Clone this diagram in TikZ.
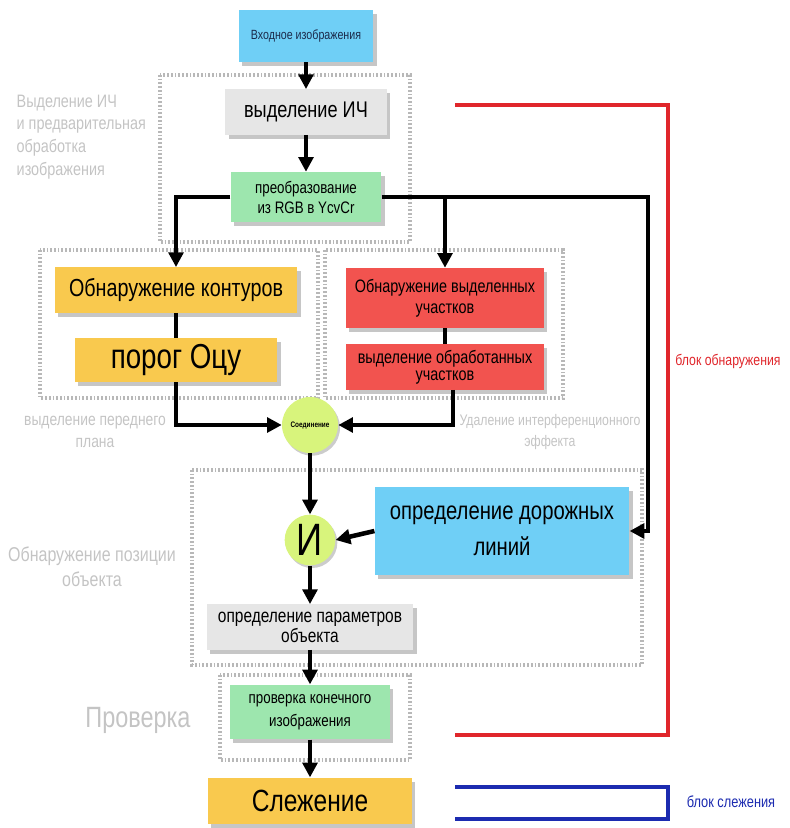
\documentclass[tikz,border=0pt]{standalone}
\usepackage{fontspec}
\setmainfont{Liberation Sans}[FakeStretch=0.8]
\usetikzlibrary{arrows.meta,shadows}
\definecolor{inblue}{HTML}{6FCFF6}
\definecolor{navy}{HTML}{1B2A4A}
\definecolor{pale}{HTML}{E6E6E6}
\definecolor{mint}{HTML}{9DE6AE}
\definecolor{sun}{HTML}{F9C94E}
\definecolor{tomato}{HTML}{F2534F}
\definecolor{lime}{HTML}{D8F47C}
\definecolor{muted}{HTML}{C4C4C4}
\definecolor{hatch}{HTML}{B8B8B8}
\definecolor{ruby}{HTML}{E0262B}
\definecolor{ink}{HTML}{1C2BB0}
\newcommand\fsz[2]{\fontsize{#1}{#2}\selectfont}
\tikzset{
  box/.style={draw=none, inner sep=2pt, align=center, text=black,
    drop shadow={opacity=0.45, shadow xshift=2.5pt, shadow yshift=-3pt}},
  ball/.style={circle, inner sep=0pt, fill=lime, text=black,
    drop shadow={opacity=0.4, shadow xshift=1.5pt, shadow yshift=-2pt}},
  arr/.style={draw=black, line width=3.4pt, -{Triangle[length=11pt,width=11pt]}},
  link/.style={draw=black, line width=3.4pt},
  grp/.style={draw=hatch, line width=3pt, dash pattern=on 1.3pt off 1.5pt},
  lab/.style={text=muted, align=center},
  brk/.style={line width=2.6pt},
}
\begin{document}
\begin{tikzpicture}[x=0.75pt,y=-0.75pt]
  \useasboundingbox (0,0) rectangle (789,828);
  % dotted groups
  \draw[grp] (160,75) rectangle (410,242);
  \draw[grp] (40,250) rectangle (318,398);
  \draw[grp] (325,250) rectangle (563,398);
  \draw[grp] (192,470) rectangle (642,665);
  \draw[grp] (220,675) rectangle (410,760);
  % boxes
  \node[box,fill=inblue,text=navy,minimum width=101pt,minimum height=39pt,font=\fsz{10}{12}] (input) at (306,36) {Входное изображения};
  \node[box,fill=pale,minimum width=121pt,minimum height=34pt,font=\fsz{17}{20}] (ich) at (306,112) {выделение ИЧ};
  \node[box,fill=mint,minimum width=113pt,minimum height=37.5pt,font=\fsz{12.5}{15}] (rgb) at (306,197) {преобразование\\из RGB в YcvCr};
  \node[box,fill=sun,minimum width=182pt,minimum height=34pt,font=\fsz{18.5}{21}] (edge) at (176,290) {Обнаружение контуров};
  \node[box,fill=sun,minimum width=152pt,minimum height=33pt,font=\fsz{26}{28}] (thresh) at (176,360) {порог Оцу};
  \node[box,fill=tomato,minimum width=148.5pt,minimum height=45pt,font=\fsz{13.5}{16}] (mark) at (445,298) {Обнаружение выделенных\\участков};
  \node[box,fill=tomato,minimum width=148.5pt,minimum height=34pt,font=\fsz{13.5}{13}] (keep) at (445,367) {выделение обработанных\\участков};
  \node[ball,minimum size=42pt,font=\bfseries\fsz{6}{7}] (join) at (310,425) {Соединение};
  \node[ball,minimum size=38pt,font=\fsz{34}{36}] (and) at (310,540) {И};
  \node[box,fill=inblue,minimum width=191pt,minimum height=66pt,font=\fsz{19}{27}] (road) at (502,531) {определение дорожных\\линий};
  \node[box,fill=pale,minimum width=155pt,minimum height=34pt,font=\fsz{14.5}{15}] (params) at (310,627) {определение параметров\\объекта};
  \node[box,fill=mint,minimum width=120pt,minimum height=41pt,font=\fsz{12.5}{17}] (check) at (310,712) {проверка конечного\\изображения};
  \node[box,fill=sun,minimum width=153pt,minimum height=35pt,font=\fsz{23}{25}] (track) at (310,801) {Слежение};
  % group labels
  \node[lab,anchor=north west,align=left,font=\fsz{13.5}{17}] (prelab) at (12,90) {Выделение ИЧ\\и предварительная\\обработка\\изображения};
  \node[lab,font=\fsz{13}{16}] (fglab) at (95,432) {выделение переднего\\плана};
  \node[lab,font=\fsz{11.5}{16}] (noiselab) at (550,432) {Удаление интерференционного\\эффекта};
  \node[lab,font=\fsz{15}{19}] (poslab) at (92,567) {Обнаружение позиции\\объекта};
  \node[lab,font=\fsz{22}{24}] (checklab) at (138,720) {Проверка};
  % connectors
  \coordinate (turn) at (648,197);
  \draw[arr] (input) -- (ich);
  \draw[arr] (ich) -- (rgb);
  \draw[arr] (rgb.west) -| (edge.north);
  \draw[arr] (rgb.east) -- (turn) |- (road.east);
  \draw[arr] (rgb.east -| mark.north) -- (mark.north);
  \draw[link] (edge) -- (thresh);
  \draw[link] (mark) -- (keep);
  \draw[arr] (thresh.south) |- (join.west);
  \draw[arr] ([xshift=6pt]keep.south) |- (join.east);
  \draw[arr] (join) -- (and);
  \draw[arr] (road.west) -- (and.east);
  \draw[arr] (and) -- (params);
  \draw[arr] (params) -- (check);
  \draw[arr] (check) -- (track);
  % blocks
  \draw[brk,ruby] (455,105) -- (668,105) -- (668,735) -- (455,735);
  \node[text=ruby,font=\fsz{11.5}{13}] (detlab) at (728,361) {блок обнаружения};
  \draw[brk,ink] (455,787) -- (668,787) -- (668,819) -- (455,819);
  \node[text=ink,font=\fsz{12}{14}] (trklab) at (731,802) {блок слежения};
\end{tikzpicture}
\end{document}
